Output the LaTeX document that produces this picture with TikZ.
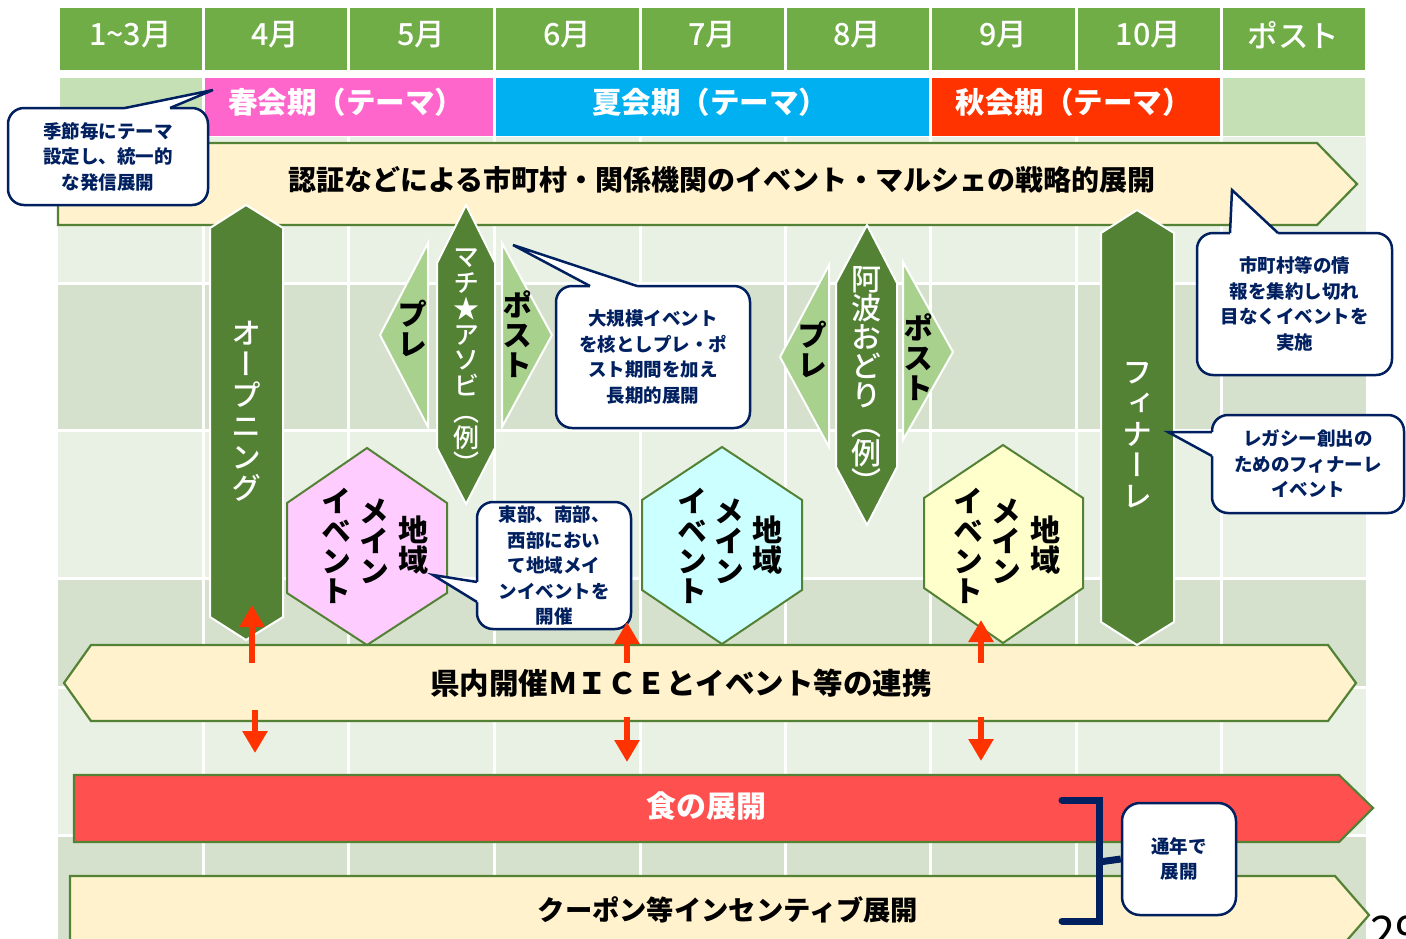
\documentclass[tikz,border=0pt]{standalone}
\usepackage{fontspec}
\setmainfont{Noto Sans CJK JP}
\newfontfamily\vfont{Noto Sans CJK JP}[RawFeature=+vert]
\newfontfamily\medfont{Noto Sans CJK JP Medium}
\newfontfamily\vmedfont{Noto Sans CJK JP Medium}[RawFeature=+vert]
\usetikzlibrary{arrows.meta}
\definecolor{hdrgreen}{HTML}{70AD47}
\definecolor{palegreen}{HTML}{C5E0B4}
\definecolor{springpink}{HTML}{FF66CC}
\definecolor{summerblue}{HTML}{00B0F0}
\definecolor{autumnred}{HTML}{FF3300}
\definecolor{bannerfill}{HTML}{FFF2CC}
\definecolor{darkgreen}{HTML}{548235}
\definecolor{midgreen}{HTML}{A9D18E}
\definecolor{hexpink}{HTML}{FFCCFF}
\definecolor{hexcyan}{HTML}{CCFFFF}
\definecolor{hexyellow}{HTML}{FFFFCC}
\definecolor{foodred}{HTML}{FF5050}
\definecolor{arrowred}{HTML}{FF3300}
\definecolor{gridlight}{HTML}{E9F0E4}
\definecolor{griddark}{HTML}{D6E1CD}
\definecolor{navy}{HTML}{002060}
\begin{document}
\begin{tikzpicture}[x=1pt,y=-1pt,
  hdrtxt/.style={text=white,font=\medfont\fontsize{30.5}{32}\selectfont,inner sep=0pt},
  seasontxt/.style={text=white,font=\bfseries\fontsize{29.5}{31}\selectfont,inner sep=0pt},
  banner/.style={fill=bannerfill,draw=darkgreen,line width=2.2pt,line join=miter},
  bantxt/.style={text=black,font=\bfseries\fontsize{28}{30}\selectfont,inner sep=0pt},
  dkshape/.style={fill=darkgreen,draw=white,line width=2pt,line join=miter},
  ltshape/.style={fill=midgreen,draw=white,line width=2pt,line join=miter},
  hexshape/.style={draw=darkgreen,line width=2pt,line join=miter},
  callbox/.style={rectangle,fill=white,draw=navy,line width=2.5pt,rounded corners=16pt,
     text=navy,font=\bfseries\fontsize{18.5}{25.5}\selectfont,align=center,inner sep=0pt},
  tailline/.style={draw=navy,line width=2.5pt,line join=miter},
  vwhite/.style={text=white,align=center,inner sep=0pt},
  vblack/.style={text=black,align=center,inner sep=0pt},
  vbig/.style={font=\vfont\bfseries\fontsize{30}{30}\selectfont},
  redarrow/.style={draw=arrowred,line width=6pt,-{Triangle[length=22pt,width=24pt]}}
]
\useasboundingbox (0,0) rectangle (1406,938);
\fill[white] (0,0) rectangle (1406,938);

% ---------- background grid ----------
\foreach \ya/\yb/\c in {137/283/gridlight,283/430/griddark,430/578/gridlight,578/687/griddark,687/835/gridlight,835/960/griddark}
  \fill[\c] (58,\ya) rectangle (1366,\yb);
\foreach \x in {203,348,494,640,785,930,1076,1221}
  \draw[white,line width=3pt] (\x,137) -- (\x,960);
\foreach \y in {283,430,578,687,835}
  \draw[white,line width=3pt] (58,\y) -- (1366,\y);

% ---------- header row ----------
\foreach \a/\b in {58/203,203/348,348/494,494/640,640/785,785/930,930/1076,1076/1221,1221/1366}
  \fill[hdrgreen] (\a+1.5,8) rectangle (\b-1.5,70);
\node[hdrtxt] (h1) at (130.5,35) {1{\char"7E}3月};
\node[hdrtxt] (h2) at (275.5,35) {4月};
\node[hdrtxt] (h3) at (421,35) {5月};
\node[hdrtxt] (h4) at (567,35) {6月};
\node[hdrtxt] (h5) at (712.5,35) {7月};
\node[hdrtxt] (h6) at (857.5,35) {8月};
\node[hdrtxt] (h7) at (1003,35) {9月};
\node[hdrtxt] (h8) at (1148.5,35) {10月};
\node[hdrtxt] (h9) at (1293.5,35) {ポスト};

% ---------- season row ----------
\fill[palegreen] (59.5,78) rectangle (201.5,136);
\fill[springpink] (204.5,78) rectangle (492.5,136);
\fill[summerblue] (495.5,78) rectangle (928.5,136);
\fill[autumnred] (931.5,78) rectangle (1219.5,136);
\fill[palegreen] (1222.5,78) rectangle (1364.5,136);
\node[seasontxt] (s1) at (346,102) {春会期（テーマ）};
\node[seasontxt] (s2) at (710,102) {夏会期（テーマ）};
\node[seasontxt] (s3) at (1073.5,102) {秋会期（テーマ）};

% ---------- banners ----------
\draw[banner] (58,143) -- (1317,143) -- (1357,184) -- (1317,225) -- (58,225) -- cycle;
\node[bantxt] (b1) at (722,180) {認証などによる市町村・関係機関のイベント・マルシェの戦略的展開};

\draw[banner] (64,683) -- (91,645) -- (1328,645) -- (1356,683) -- (1328,721) -- (91,721) -- cycle;
\node[bantxt,font=\bfseries\fontsize{29.5}{31}\selectfont] (b2) at (681,683) {県内開催ＭＩＣＥとイベント等の連携};

\draw[banner,fill=foodred] (74,775) -- (1339,775) -- (1373,808) -- (1339,842) -- (74,842) -- cycle;
\node[bantxt,text=white,font=\bfseries\fontsize{30}{32}\selectfont] (b3) at (706,806) {食の展開};

\draw[banner] (70,876) -- (1335,876) -- (1369,915) -- (1335,954) -- (70,954) -- cycle;
\node[bantxt,font=\bfseries\fontsize{27.3}{29}\selectfont] (b4) at (728,910) {クーポン等インセンティブ展開};

% ---------- opening / finale ----------
\draw[dkshape] (246,205) -- (283,228) -- (283,617) -- (246,640) -- (210,617) -- (210,228) -- cycle;
\node[vwhite,font=\vmedfont\fontsize{30}{31}\selectfont] (tOpen) at (246,411) {オ\\ー\\プ\\ニ\\ン\\グ};

\draw[dkshape] (1137,210) -- (1174,233) -- (1174,622) -- (1137,645) -- (1101,622) -- (1101,233) -- cycle;
\node[vwhite,font=\vmedfont\fontsize{30}{31}\selectfont] (tFin) at (1137,435) {フ\\ィ\\ナ\\ー\\レ};

% ---------- machi asobi ----------
\draw[ltshape] (428,243) -- (380,335) -- (428,427) -- cycle;
\draw[ltshape] (502,243) -- (552,335) -- (502,427) -- cycle;
\draw[dkshape] (466,205) -- (495,263) -- (495,448) -- (466,504) -- (437,448) -- (437,263) -- cycle;
\node[vwhite,font=\vmedfont\fontsize{26}{25.8}\selectfont] (tMachi) at (466,361) {マ\\チ\\★\\ア\\ソ\\ビ\\（\\例\\）};
\node[vblack,vbig] (tMpre) at (412,328) {プ\\レ};
\node[vblack,vbig] (tMpost) at (517,334) {ポ\\ス\\ト};

% ---------- awa odori ----------
\draw[ltshape] (829,265) -- (780,357) -- (829,447) -- cycle;
\draw[ltshape] (903,262) -- (953,352) -- (903,440) -- cycle;
\draw[dkshape] (867,225) -- (897,283) -- (897,467) -- (867,525) -- (836,467) -- (836,283) -- cycle;
\node[vwhite,font=\vmedfont\fontsize{30}{29}\selectfont] (tAwa) at (866,380) {阿\\波\\お\\ど\\り\\（\\例\\）};
\node[vblack,vbig] (tApre) at (812,349) {プ\\レ};
\node[vblack,vbig] (tApost) at (918,357) {ポ\\ス\\ト};

% ---------- regional hexagons ----------
\draw[hexshape,fill=hexpink] (367,448) -- (447,503) -- (447,593) -- (367,645) -- (287,593) -- (287,503) -- cycle;
\node[vblack,vbig] (p1) at (413,545) {地\\域};
\node[vblack,vbig] (p2) at (374,541) {メ\\イ\\ン};
\node[vblack,vbig] (p3) at (336,546) {イ\\ベ\\ン\\ト};

\draw[hexshape,fill=hexcyan] (722,447) -- (802,500) -- (802,590) -- (722,644) -- (642,590) -- (642,500) -- cycle;
\node[vblack,vbig] (c1) at (767,545) {地\\域};
\node[vblack,vbig] (c2) at (729,541) {メ\\イ\\ン};
\node[vblack,vbig] (c3) at (692,546) {イ\\ベ\\ン\\ト};

\draw[hexshape,fill=hexyellow] (1003,445) -- (1083,498) -- (1083,588) -- (1003,643) -- (924,588) -- (924,498) -- cycle;
\node[vblack,vbig] (y1) at (1045,545) {地\\域};
\node[vblack,vbig] (y2) at (1006,541) {メ\\イ\\ン};
\node[vblack,vbig] (y3) at (968,546) {イ\\ベ\\ン\\ト};

% ---------- callouts ----------
\node[callbox,minimum width=200pt,minimum height=97pt] (cTL) at (108,156.5) {季節毎にテーマ\\設定し、統一的\\な発信展開};
\fill[white] (213,90) -- (125,108) -- (125,112) -- (170,112) -- (170,108) -- cycle;
\draw[tailline] (125,108) -- (213,90) -- (170,108);

\node[callbox,minimum width=194pt,minimum height=142pt] (cBig) at (653,357) {大規模イベント\\を核としプレ・ポ\\スト期間を加え\\長期的展開};
\fill[white] (513,245) -- (590,286) -- (590,290) -- (637,290) -- (637,286) -- cycle;
\draw[tailline] (590,286) -- (513,245) -- (637,286);

\node[callbox,minimum width=154pt,minimum height=127pt] (cEast) at (554,565.5) {東部、南部、\\西部におい\\て地域メイ\\ンイベントを\\開催};
\fill[white] (433,575) -- (477,582) -- (481,582) -- (481,602) -- (477,602) -- cycle;
\draw[tailline] (477,582) -- (433,575) -- (477,602);

\node[callbox,minimum width=195pt,minimum height=142pt] (cCity) at (1294.5,304) {市町村等の情\\報を集約し切れ\\目なくイベントを\\実施};
\fill[white] (1232,190) -- (1230,233) -- (1230,237) -- (1278,237) -- (1278,233) -- cycle;
\draw[tailline] (1230,233) -- (1232,190) -- (1278,233);

\node[callbox,minimum width=192pt,minimum height=98pt] (cLeg) at (1308,464) {レガシー創出の\\ためのフィナーレ\\イベント};
\fill[white] (1168,432) -- (1212,432) -- (1216,432) -- (1216,456) -- (1212,456) -- cycle;
\draw[tailline] (1212,432) -- (1168,432) -- (1212,456);

% ---------- red arrows ----------
\coordinate (u1s) at (252,663); \coordinate (u1t) at (252,605);
\coordinate (d1s) at (255,710); \coordinate (d1t) at (255,753);
\coordinate (u2s) at (627,663); \coordinate (u2t) at (627,622);
\coordinate (d2s) at (627,717); \coordinate (d2t) at (627,762);
\coordinate (u3s) at (981,663); \coordinate (u3t) at (981,620);
\coordinate (d3s) at (981,717); \coordinate (d3t) at (981,761);
\foreach \s/\t in {u1s/u1t,d1s/d1t,u2s/u2t,d2s/d2t,u3s/u3t,d3s/d3t}
  \draw[redarrow] (\s) -- (\t);

% ---------- bracket + year-round callout ----------
\node[callbox,minimum width=114pt,minimum height=112pt,rounded corners=18pt] (cYear) at (1179,859) {通年で\\展開};
\draw[navy,line width=7pt,line cap=round,line join=miter] (1062,800) -- (1099,800) -- (1099,921) -- (1062,921);
\coordinate (brk) at (1099,862);
\draw[navy,line width=7pt] (brk) -- (cYear.west);

% ---------- page number ----------
\node[anchor=base west,inner sep=0pt,font=\fontsize{45}{45}\selectfont] (pg) at (1370,948) {29};
\end{tikzpicture}
\end{document}
